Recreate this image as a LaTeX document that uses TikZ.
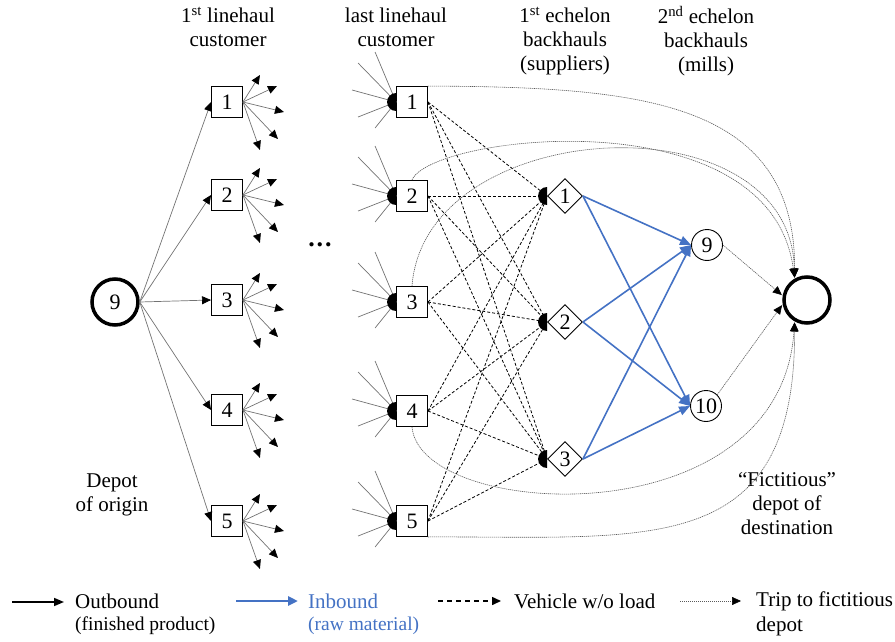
\documentclass[tikz,border=0pt]{standalone}
\usepackage{fontspec}
\setmainfont{Liberation Serif}
\usetikzlibrary{arrows.meta,shapes.geometric,positioning,calc}
\definecolor{inblue}{RGB}{68,114,196}
\definecolor{fangray}{RGB}{115,115,115}
\definecolor{tripgray}{RGB}{90,90,90}

\tikzset{
  txt/.style={font=\fontsize{21}{24}\selectfont, inner sep=0pt, align=center},
  subtxt/.style={font=\fontsize{19.5}{23}\selectfont, inner sep=0pt, align=left},
  custbox/.style={draw, line width=0.9pt, fill=white, minimum size=31pt, inner sep=0pt, font=\fontsize{22}{24}\selectfont},
  suppnode/.style={draw, diamond, line width=0.9pt, fill=white, minimum size=35pt, inner sep=0pt, font=\fontsize{22}{24}\selectfont},
  millnode/.style={draw, circle, line width=0.9pt, fill=white, minimum size=31pt, inner sep=0pt, font=\fontsize{22}{24}\selectfont},
  depotnode/.style={draw, circle, line width=3.5pt, fill=white, minimum size=46pt, inner sep=0pt, font=\fontsize{22}{24}\selectfont},
  outarrow/.style={draw=fangray, line width=0.7pt, -{Triangle[length=9pt,width=8pt,color=black]}},
  fanline/.style={draw=fangray, line width=0.7pt},
  emptyrun/.style={draw=black, line width=0.8pt, dash pattern=on 3pt off 2pt},
  inarrow/.style={draw=inblue, line width=1.6pt, -{Triangle[length=11pt,width=9pt]}},
  triparrow/.style={draw=tripgray, line width=0.6pt, dash pattern=on 1.2pt off 0.8pt, -{Triangle[length=9pt,width=8pt,color=black]}, shorten >=1pt},
  halfdisk/.style={fill=black}
}

\begin{document}
\begin{tikzpicture}[x=1pt,y=-1pt]
\useasboundingbox (0,0) rectangle (895,642);

% column headings
\node[txt] (h1) at (228,27) {1\textsuperscript{st} linehaul\\customer};
\node[txt] (h2) at (396,27) {last linehaul\\customer};
\node[txt] (h3) at (565,41) {1\textsuperscript{st} echelon\\backhauls\\(suppliers)};
\node[txt] (h4) at (706,41) {2\textsuperscript{nd} echelon\\backhauls\\(mills)};

% depots
\node[depotnode] (o) at (115,302) {9};
\node[depotnode] (fd) at (807,300) {};
\node[txt] (olab) at (112,495) {Depot\\of origin};
\node[txt] (fdlab) at (787,504) {``Fictitious''\\depot of\\destination};
\node[txt, font=\fontsize{26}{26}\selectfont] (dots) at (320,245) {\textbf{.\kern2pt.\kern2pt.}};

% customers, suppliers, mills
\foreach \i/\y in {1/102,2/195,3/300,4/410,5/521}
  \node[custbox] (f\i) at (227,\y) {\i};
\foreach \i/\y in {1/102,2/196,3/302,4/411,5/521}
  \node[custbox] (l\i) at (412,\y) {\i};
\foreach \j/\y in {1/196,2/322,3/459}
  \node[suppnode] (s\j) at (565,\y) {\j};
\node[millnode] (m1) at (707,245) {9};
\node[millnode] (m2) at (706,406) {10};

% outbound from depot of origin
\foreach \i in {1,...,5}{
  \draw[outarrow] (o.east) -- (f\i.west);
  \foreach \dx/\dy [count=\j] in {17/-27,34/-16,41/10,35/37,17/48}{
    \path (f\i.east) ++(\dx,\dy) coordinate (t\i\j);
    \draw[outarrow] (f\i.east) -- (t\i\j);
  }
}

% incoming to last linehaul customer
\foreach \i in {1,...,5}{
  \foreach \dx/\dy [count=\j] in {-21/-50,-38/-39,-44/-12,-38/15,-21/26}{
    \path (l\i.west) ++(\dx,\dy) coordinate (u\i\j);
    \draw[fanline] (u\i\j) -- (l\i.west);
  }
}

% empty runs to suppliers
\foreach \i in {1,...,5}
  \foreach \j in {1,2,3}
    \draw[emptyrun] (l\i.east) -- (s\j.west);

\foreach \n in {l1,l2,l3,l4,l5,s1,s2,s3}
  \fill[halfdisk] (\n.west) ++(0,-9) arc[start angle=90,end angle=270,radius=9pt] -- cycle;

% inbound
\foreach \j in {1,2,3}
  \foreach \k in {1,2}
    \draw[inarrow] (s\j.east) -- (m\k.west);

% trips to fictitious depot
\draw[triparrow] (l1.north east) .. controls (640,87) and (795,100) .. (fd.120);
\draw[triparrow] (l2.north) .. controls (430,135) and (770,95) .. (fd.120);
\draw[triparrow] (l3.north) .. controls (425,115) and (790,95) .. (fd.120);
\draw[triparrow] (m1.east) -- (fd.170);
\draw[triparrow] (m2.north east) -- (fd.190);
\draw[triparrow] (l4.south) .. controls (420,520) and (780,540) .. (fd.240);
\draw[triparrow] (l5.south east) .. controls (650,536) and (795,560) .. (fd.240);

% legend
\coordinate (a1) at (12,602);  \coordinate (a2) at (64,602);
\coordinate (b1) at (236,601); \coordinate (b2) at (298,601);
\coordinate (c1) at (438,601); \coordinate (c2) at (501,601);
\coordinate (d1) at (680,601); \coordinate (d2) at (741,601);
\draw[line width=1.5pt, -{Triangle[length=10pt,width=8pt]}] (a1) -- (a2);
\draw[inblue, line width=2.8pt, -{Triangle[length=10pt,width=9pt]}] (b1) -- (b2);
\draw[line width=1.5pt, dash pattern=on 5pt off 4pt, -{Triangle[length=9pt,width=8pt]}] (c1) -- (c2);
\draw[draw=tripgray, line width=0.6pt, dash pattern=on 1.2pt off 0.8pt, -{Triangle[length=9pt,width=8pt,color=black]}] (d1) -- (d2);
\node[txt, anchor=west] (ta) at (75,601) {Outbound};
\node[subtxt, anchor=west] (tas) at (75,626) {(finished product)};
\node[txt, anchor=west, text=inblue] (tb) at (308,601) {Inbound};
\node[subtxt, anchor=west, text=inblue] (tbs) at (308,626) {(raw material)};
\node[txt, anchor=west] (tc) at (514,601) {Vehicle w/o load};
\node[txt, anchor=west] (td) at (756,601) {Trip to fictitious};
\node[txt, anchor=west] (tds) at (756,626) {depot};
\end{tikzpicture}
\end{document}
